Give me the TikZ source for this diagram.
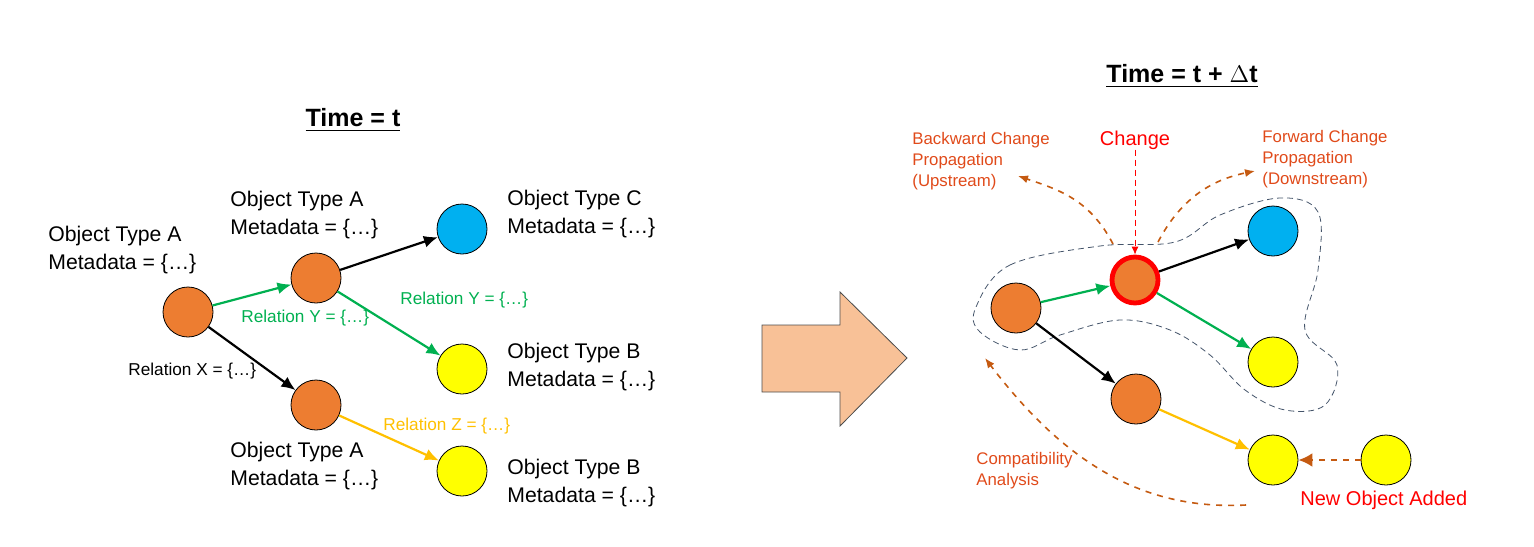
\documentclass[tikz,border=0pt]{standalone}
\usepackage{fontspec}
\setmainfont{Liberation Sans}
\usetikzlibrary{arrows.meta}
\definecolor{orangeobj}{HTML}{ED7D31}
\definecolor{blueobj}{HTML}{00B0F0}
\definecolor{yellowobj}{HTML}{FFFF00}
\definecolor{greenrel}{HTML}{00B050}
\definecolor{goldrel}{HTML}{FFC000}
\definecolor{propcol}{HTML}{C55A11}
\definecolor{proptext}{HTML}{E04A1A}
\definecolor{blobcol}{HTML}{44546A}
\definecolor{bigarrow}{HTML}{F8C197}
\tikzset{
  obj/.style={circle, draw=black, minimum size=25pt, inner sep=0pt},
  objA/.style={obj, fill=orangeobj},
  objB/.style={obj, fill=yellowobj},
  objC/.style={obj, fill=blueobj},
  info/.style={align=left, anchor=north west, inner sep=0pt, font=\fontsize{10.6}{14}\selectfont},
  rel/.style={anchor=west, inner sep=0pt, font=\fontsize{8.6}{10}\selectfont},
  note/.style={align=left, inner sep=0pt, text=proptext, font=\fontsize{8.4}{10.5}\selectfont},
  link/.style={line width=1.1pt, -{Latex[length=7pt,width=6pt]}},
  prop/.style={propcol, dashed, thick, -{Latex[length=5pt,width=4pt]}},
  title/.style={font=\bfseries\fontsize{12.5}{14}\selectfont}
}
\begin{document}
\begin{tikzpicture}[x=0.5pt,y=-0.5pt]
	\useasboundingbox (0,0) rectangle (1534,546);

	% time = t
	\node (title1) [title] at (353,120) {\underline{Time = t}};
	\node (a1) [objA] at (188,312) {};
	\node (a2) [objA] at (316,278) {};
	\node (c1) [objC] at (462,229) {};
	\node (b1) [objB] at (462,369) {};
	\node (a3) [objA] at (316,405) {};
	\node (b2) [objB] at (462,471) {};

	\node (la1) [info] at (48,226) {Object Type A\\Metadata = \{…\}};
	\node (la2) [info] at (230,191) {Object Type A\\Metadata = \{…\}};
	\node (lc1) [info] at (507,190) {Object Type C\\Metadata = \{…\}};
	\node (lb1) [info] at (507,343) {Object Type B\\Metadata = \{…\}};
	\node (la3) [info] at (230,442) {Object Type A\\Metadata = \{…\}};
	\node (lb2) [info] at (507,459) {Object Type B\\Metadata = \{…\}};

	\draw [link, greenrel] (a1) -- (a2);
	\draw [link] (a1) -- (a3);
	\draw [link] (a2) -- (c1);
	\draw [link, greenrel] (a2) -- (b1);
	\draw [link, goldrel] (a3) -- (b2);

	\node (ry1) [rel, greenrel] at (241,318) {Relation Y = \{…\}};
	\node (ry2) [rel, greenrel] at (400,300) {Relation Y = \{…\}};
	\node (rx) [rel] at (128,371) {Relation X = \{…\}};
	\node (rz) [rel, goldrel] at (383,426) {Relation Z = \{…\}};

	% big arrow
	\draw [fill=bigarrow, draw=black!70] (762,325) -- (840,325) -- (840,292) -- (907,358) -- (840,426) -- (840,392) -- (762,392) -- cycle;

	% time = t + dt
	\node (title2) [title] at (1182,76) {\underline{Time = t + $\Delta$t}};
	\draw [blobcol, densely dashed, thin] plot [smooth cycle, tension=0.6] coordinates {
		(976,307) (1010,265) (1100,246) (1175,242) (1220,215) (1280,198) (1318,212)
		(1318,270) (1305,330) (1337,365) (1325,405) (1285,410) (1245,390) (1210,355)
		(1170,330) (1120,320) (1060,335) (1020,350) (980,332)};

	\node (r1) [objA] at (1016,308) {};
	\node (r2) [objA, draw=red, line width=2.4pt, minimum size=23pt] at (1135,280) {};
	\node (rc) [objC] at (1273,231) {};
	\node (rb1) [objB] at (1273,362) {};
	\node (ra3) [objA] at (1136,399) {};
	\node (rb2) [objB] at (1273,460) {};
	\node (rn) [objB] at (1386,460) {};

	\draw [link, greenrel] (r1) -- (r2);
	\draw [link] (r1) -- (ra3);
	\draw [link] (r2) -- (rc);
	\draw [link, greenrel] (r2) -- (rb1);
	\draw [link, goldrel] (ra3) -- (rb2);
	\draw [propcol, very thick, dashed, -{Latex[length=7pt,width=7pt]}] (rn) -- (rb2);

	\node (chg) [note, text=red, font=\fontsize{10}{11}\selectfont] at (1135,140) {Change};
	\draw [red, densely dashed, -{Latex[length=4pt,width=3.5pt]}] (chg.south) -- (r2.north);
	\node (back) [note, anchor=north west] at (912,132) {Backward Change\\Propagation\\(Upstream)};
	\node (fwd) [note, anchor=north west] at (1262,130) {Forward Change\\Propagation\\(Downstream)};
	\node (compat) [note, anchor=north west] at (976,452) {Compatibility\\Analysis};
	\node (newobj) [note, text=red, anchor=west, font=\fontsize{10}{11}\selectfont] at (1300,500) {New Object Added};

	\coordinate (bs) at (1113,244);
	\coordinate (be) at (1018,176);
	\coordinate (fs) at (1158,242);
	\coordinate (fe) at (1255,171);
	\coordinate (cs) at (1246,505);
	\coordinate (ce) at (985,358);
	\draw [prop] (bs) .. controls (1090,200) and (1060,190) .. (be);
	\draw [prop] (fs) .. controls (1180,200) and (1210,180) .. (fe);
	\draw [prop] (cs) .. controls (1150,510) and (1070,470) .. (ce);
\end{tikzpicture}
\end{document}
